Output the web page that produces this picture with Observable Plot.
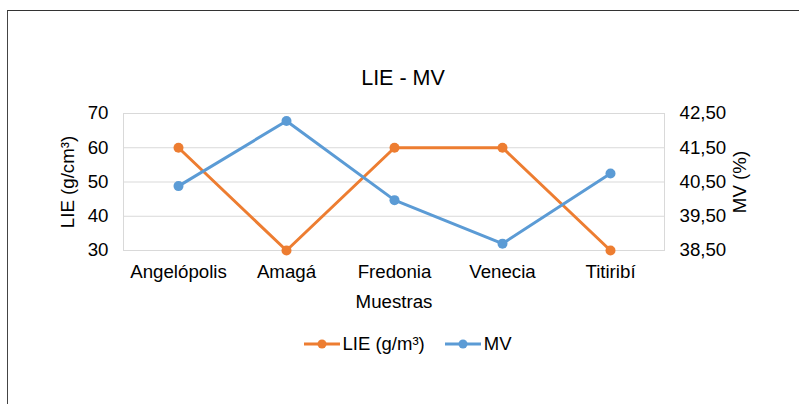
<!DOCTYPE html>
<html>
<head>
<meta charset="utf-8">
<script src="https://cdn.jsdelivr.net/npm/d3@7"></script>
<script src="https://cdn.jsdelivr.net/npm/@observablehq/plot@0.6"></script>
<style>
  html, body { margin: 0; padding: 0; background: #fff; }
  #wrap { position: relative; width: 799px; height: 404px; overflow: hidden; font-family: "Liberation Sans", Arial, sans-serif; }
  #frame { position: absolute; left: 7px; top: 10px; width: 820px; height: 420px; border-top: 1px solid #333; border-left: 1px solid #444; box-sizing: border-box; }
  #title { position: absolute; left: 7px; width: 792px; top: 66px; text-align: center; font-size: 21.5px; color: #000; }
  #legend { position: absolute; left: 0; width: 799px; top: 333px; display: flex; justify-content: center; align-items: center; font-size: 18.5px; color: #000; padding-left: 16px; box-sizing: border-box; }
  #legend .item { display: flex; align-items: center; margin: 0 10px; }
  #legend svg { margin-right: 3px; }
  #chart { position: absolute; left: 0; top: 0; }
</style>
</head>
<body>
<div id="wrap">
  <div id="frame"></div>
  <div id="chart"></div>
  <div id="title">LIE - MV</div>
  <div id="legend"></div>
</div>
<script>
const categories = ["Angelópolis", "Amagá", "Fredonia", "Venecia", "Titiribí"];
const lieValues = [60, 30, 60, 60, 30];
const mvValues = [40.38, 42.28, 39.97, 38.70, 40.75];
const lieTicks = [30, 40, 50, 60, 70];
const mvTickLabels = ["38,50", "39,50", "40,50", "41,50", "42,50"];
const seriesNames = ["LIE (g/m³)", "MV"];
const colors = ["#ED7D31", "#5B9BD5"];

// map MV (38.5..42.5) onto the LIE scale (30..70)
const mvToY = v => 30 + (v - 38.5) * 10;

const data = categories.map((c, i) => ({cat: c, lie: lieValues[i], mv: mvValues[i]}));

const chart = Plot.plot({
  width: 799,
  height: 404,
  marginLeft: 123,
  marginRight: 135,
  marginTop: 113,
  marginBottom: 154,
  style: {fontFamily: "'Liberation Sans', Arial, sans-serif", fontSize: "18.7px", color: "#000", background: "transparent", overflow: "visible"},
  x: {type: "point", domain: categories, padding: 0.5},
  y: {domain: [30, 70]},
  marks: [
    Plot.gridY(lieTicks, {stroke: "#d9d9d9", strokeOpacity: 1, strokeWidth: 1}),
    Plot.frame({stroke: "#d9d9d9", strokeWidth: 1}),
    Plot.axisY(lieTicks, {anchor: "left", tickSize: 0, tickPadding: 15, label: "LIE (g/cm³)", labelAnchor: "center", labelArrow: "none", labelOffset: 63}),
    Plot.axisY(lieTicks, {anchor: "right", tickSize: 0, tickPadding: 15, tickFormat: (d, i) => mvTickLabels[lieTicks.indexOf(d)], label: "MV (%)", labelAnchor: "center", labelArrow: "none", labelOffset: 81}),
    Plot.axisX({tickSize: 0, tickPadding: 14, label: "Muestras", labelAnchor: "center", labelArrow: "none", labelOffset: 57}),
    Plot.line(data, {x: "cat", y: "lie", stroke: colors[0], strokeWidth: 3}),
    Plot.dot(data, {x: "cat", y: "lie", fill: colors[0], r: 5}),
    Plot.line(data, {x: "cat", y: d => mvToY(d.mv), stroke: colors[1], strokeWidth: 3}),
    Plot.dot(data, {x: "cat", y: d => mvToY(d.mv), fill: colors[1], r: 5})
  ]
});
document.getElementById("chart").appendChild(chart);

const legend = document.getElementById("legend");
seriesNames.forEach((name, i) => {
  const item = document.createElement("div");
  item.className = "item";
  item.innerHTML = `<svg width="36" height="12"><line x1="0" y1="6" x2="36" y2="6" stroke="${colors[i]}" stroke-width="3"/><circle cx="18" cy="6" r="4.5" fill="${colors[i]}"/></svg><span>${name}</span>`;
  legend.appendChild(item);
});
</script>
</body>
</html>
